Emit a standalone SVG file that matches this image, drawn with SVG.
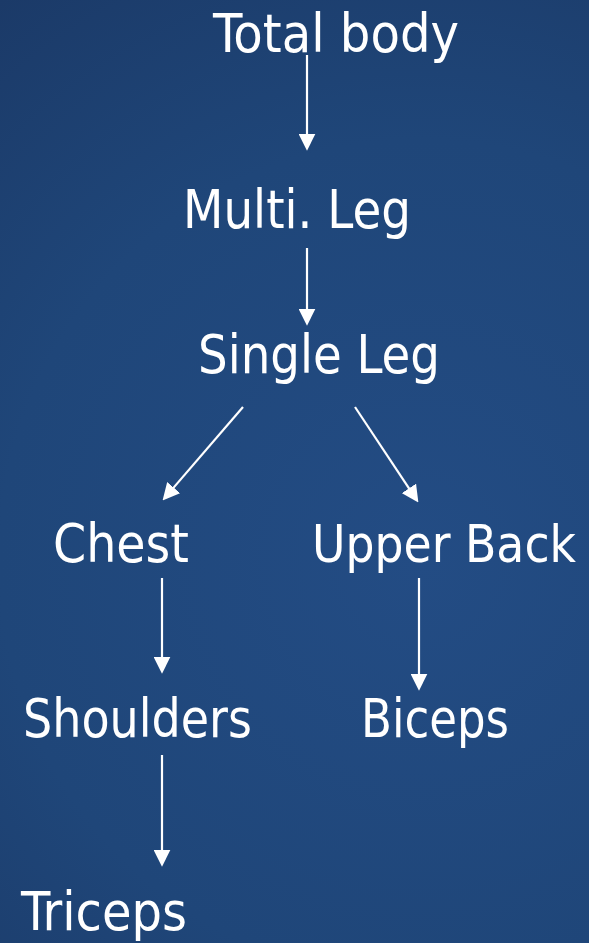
<svg xmlns="http://www.w3.org/2000/svg" width="589" height="943" viewBox="0 0 589 943">
  <defs>
    <radialGradient id="bg" cx="420" cy="560" r="700" gradientUnits="userSpaceOnUse">
      <stop offset="0" stop-color="#234c84"/>
      <stop offset="0.6" stop-color="#1f4679"/>
      <stop offset="1" stop-color="#1b3a68"/>
    </radialGradient>
    <marker id="ah" markerUnits="userSpaceOnUse" markerWidth="17" markerHeight="17" viewBox="0 0 16 16" refX="6" refY="8" orient="auto">
      <path d="M0,0 L16,8 L0,16 z" fill="#ffffff"/>
    </marker>
  </defs>
  <style>
    text { font-family: "DejaVu Sans Condensed", "DejaVu Sans", "Liberation Sans", sans-serif; font-size: 54px; fill: #ffffff; }
    .c line { stroke: #ffffff; stroke-width: 2.2; marker-end: url(#ah); }
  </style>
  <rect x="0" y="0" width="589" height="943" fill="url(#bg)"/>
  <g class="c" id="connectors">
    <line x1="307" y1="55" x2="307" y2="140"/>
    <line x1="307" y1="248" x2="307" y2="315"/>
    <line x1="243" y1="407" x2="169.5" y2="492.4"/>
    <line x1="355" y1="407" x2="412.5" y2="493.7"/>
    <line x1="162" y1="578" x2="162" y2="663"/>
    <line x1="419" y1="578" x2="419" y2="680"/>
    <line x1="162" y1="755" x2="162" y2="856"/>
  </g>
  <g id="total-body"><text x="213" y="52" textLength="246" lengthAdjust="spacingAndGlyphs">Total body</text></g>
  <g id="multi-leg"><text x="183" y="228" textLength="228" lengthAdjust="spacingAndGlyphs">Multi. Leg</text></g>
  <g id="single-leg"><text x="198" y="373" textLength="242" lengthAdjust="spacingAndGlyphs">Single Leg</text></g>
  <g id="chest"><text x="53" y="562" textLength="136" lengthAdjust="spacingAndGlyphs">Chest</text></g>
  <g id="upper-back"><text x="312" y="562" style="font-size:52px" textLength="264" lengthAdjust="spacingAndGlyphs">Upper Back</text></g>
  <g id="shoulders"><text x="23" y="737" textLength="229" lengthAdjust="spacingAndGlyphs">Shoulders</text></g>
  <g id="biceps"><text x="361" y="737" textLength="148" lengthAdjust="spacingAndGlyphs">Biceps</text></g>
  <g id="triceps"><text x="21" y="930" textLength="166" lengthAdjust="spacingAndGlyphs">Triceps</text></g>
</svg>
